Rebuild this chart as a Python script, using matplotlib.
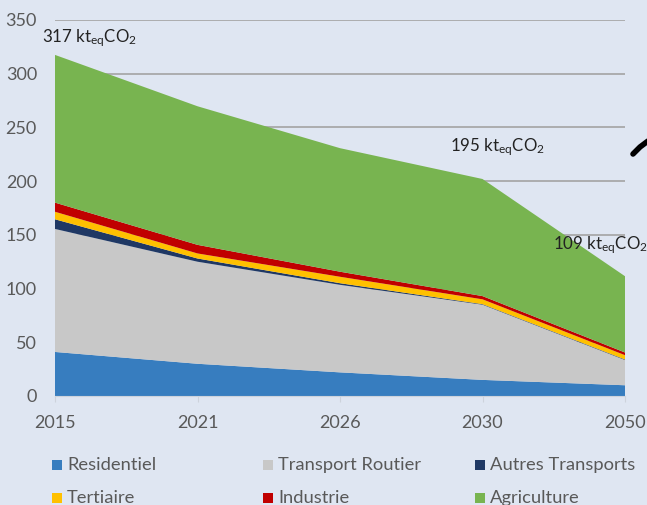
import numpy as np
import matplotlib
matplotlib.use('Agg')
import matplotlib.pyplot as plt
from matplotlib.patches import Rectangle
from matplotlib.lines import Line2D

plt.rcParams['font.family'] = ['Lato', 'DejaVu Sans']
plt.rcParams['mathtext.fontset'] = 'custom'
plt.rcParams['mathtext.rm'] = 'Lato'
plt.rcParams['mathtext.it'] = 'Lato:italic'

years = ['2015', '2021', '2026', '2030', '2050']
residentiel = [41, 30, 22, 15, 10]
transport_routier = [114.5, 95, 81.5, 70, 23.5]
autres_transports = [9, 3, 1.5, 0.5, 0.5]
tertiaire = [7, 4.7, 6, 4.5, 4]
industrie = [8.5, 8, 4.7, 3, 2.5]
agriculture = [137.5, 129, 115, 109, 71]

series_names = ['Residentiel', 'Transport Routier', 'Autres Transports',
                'Tertiaire', 'Industrie', 'Agriculture']
colors = ['#377DBF', '#C8C8C8', '#1F3864', '#FFC000', '#C00000', '#78B450']

annotations = ['317', '195', '109']

bg = '#DFE6F2'
fig = plt.figure(figsize=(6.47, 5.05), dpi=100, facecolor=bg)
ax = fig.add_axes([55 / 647, 1 - 396 / 505, 570 / 647, 376 / 505])
ax.set_facecolor(bg)

x = np.arange(len(years))
ax.stackplot(x, residentiel, transport_routier, autres_transports,
             tertiaire, industrie, agriculture, colors=colors, zorder=2)

ax.set_xlim(0, len(years) - 1)
ax.set_ylim(0, 350)
ax.set_yticks(range(0, 351, 50))
ax.set_xticks(x)
ax.set_xticklabels(years)
ax.yaxis.grid(True, color='#A3A3A3', linewidth=1.2, zorder=1)
ax.set_axisbelow(True)
for s in ['top', 'right', 'left']:
    ax.spines[s].set_visible(False)
ax.spines['bottom'].set_color('#CDD3DC')
ax.tick_params(axis='y', length=0, pad=13, labelsize=13, labelcolor='#595959')
ax.tick_params(axis='x', length=4, color='#CDD3DC', pad=10, labelsize=13,
               labelcolor='#595959')

# labels of totals
lbl = r'%s kt$_{\mathregular{eq}}$CO$_{\mathregular{2}}$'
fig.text(42 / 647, 1 - 38 / 505, lbl % annotations[0], fontsize=12.2,
         color='#222222', va='center')
fig.text(450 / 647, 1 - 147 / 505, lbl % annotations[1], fontsize=12.2,
         color='#222222', va='center')
fig.text(553 / 647, 1 - 245 / 505, lbl % annotations[2], fontsize=12.2,
         color='#222222', va='center')

# piece of arrow on the right edge
fig.add_artist(Line2D([633 / 647, 640 / 647, 648 / 647],
                      [1 - 154 / 505, 1 - 147 / 505, 1 - 141 / 505],
                      color='black', linewidth=4, solid_capstyle='round'))

# legend
leg_x = [52, 263, 475]
leg_y = [465, 498]
order = [[0, 1, 2], [3, 4, 5]]
for r, row in enumerate(order):
    for c, idx in enumerate(row):
        px, py = leg_x[c], leg_y[r]
        fig.add_artist(Rectangle((px / 647, 1 - (py + 5) / 505), 10 / 647, 10 / 505,
                                 transform=fig.transFigure,
                                 facecolor=colors[idx], edgecolor='none'))
        fig.text((px + 15) / 647, 1 - py / 505, series_names[idx], fontsize=13.2,
                 color='#595959', va='center')

fig.savefig('out.png', dpi=100, facecolor=bg)
